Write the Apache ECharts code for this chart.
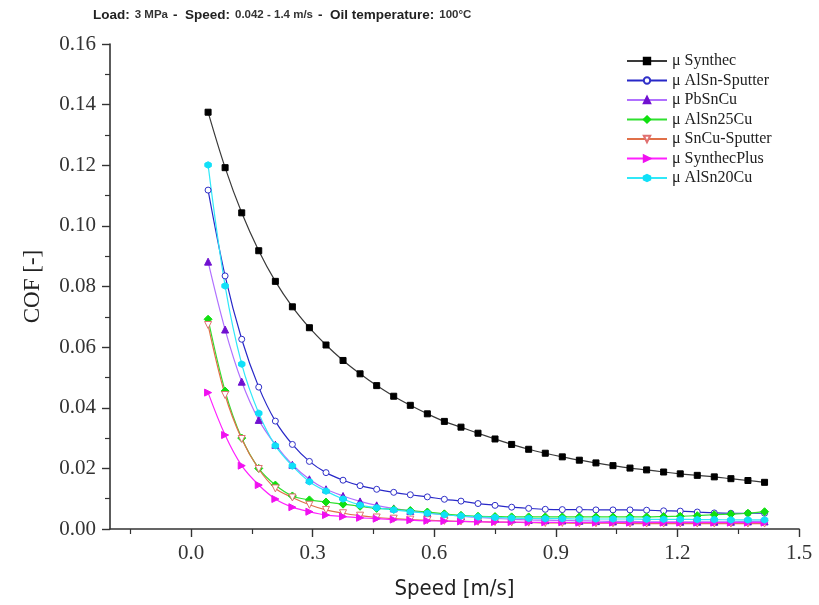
<!DOCTYPE html>
<html>
<head>
<meta charset="utf-8">
<script src="https://cdn.jsdelivr.net/npm/echarts@6/dist/echarts.min.js"></script>
<style>html,body{margin:0;padding:0;background:#fff}#c{width:819px;height:605px}</style>
</head>
<body>
<div id="c"></div>
<script>
var speed = [0.042,0.084,0.125,0.167,0.208,0.250,0.292,0.333,0.375,0.417,0.458,0.500,0.541,0.583,0.625,0.666,0.708,0.750,0.791,0.833,0.874,0.916,0.958,0.999,1.041,1.083,1.124,1.166,1.207,1.249,1.291,1.332,1.374,1.415];
var synthec = [0.1375,0.1192,0.1043,0.0918,0.0817,0.0733,0.0664,0.0607,0.0556,0.0512,0.0473,0.0438,0.0408,0.0380,0.0355,0.0336,0.0316,0.0297,0.0279,0.0263,0.0250,0.0238,0.0227,0.0218,0.0209,0.0201,0.0195,0.0188,0.0182,0.0177,0.0172,0.0166,0.0160,0.0154];
var alsnSputter = [0.1118,0.0835,0.0626,0.0468,0.0356,0.0279,0.0223,0.0186,0.0161,0.0143,0.0131,0.0121,0.0113,0.0106,0.0098,0.0092,0.0084,0.0078,0.0072,0.0068,0.0065,0.0064,0.0064,0.0063,0.0063,0.0063,0.0062,0.0060,0.0059,0.0056,0.0053,0.0052,0.0052,0.0052];
var pbsncu = [0.0882,0.0658,0.0486,0.0360,0.0278,0.0212,0.0164,0.0131,0.0109,0.0091,0.0078,0.0068,0.0060,0.0053,0.0047,0.0042,0.0038,0.0035,0.0032,0.0030,0.0029,0.0028,0.0027,0.0026,0.0025,0.0025,0.0024,0.0024,0.0024,0.0024,0.0024,0.0024,0.0025,0.0025];
var alsn25cu = [0.0692,0.0455,0.0300,0.0200,0.0145,0.0109,0.0096,0.0089,0.0082,0.0075,0.0068,0.0065,0.0061,0.0056,0.0050,0.0045,0.0042,0.0041,0.0040,0.0040,0.0040,0.0040,0.0040,0.0040,0.0040,0.0040,0.0040,0.0041,0.0042,0.0044,0.0047,0.0049,0.0052,0.0057];
var sncuSputter = [0.0673,0.0442,0.0297,0.0198,0.0134,0.0104,0.0080,0.0063,0.0052,0.0044,0.0038,0.0034,0.0031,0.0029,0.0027,0.0025,0.0024,0.0023,0.0022,0.0021,0.0020,0.0020,0.0019,0.0019,0.0019,0.0018,0.0018,0.0018,0.0018,0.0018,0.0018,0.0018,0.0018,0.0018];
var synthecPlus = [0.0450,0.0310,0.0209,0.0145,0.0099,0.0072,0.0057,0.0046,0.0041,0.0037,0.0034,0.0031,0.0029,0.0027,0.0026,0.0025,0.0024,0.0023,0.0023,0.0022,0.0022,0.0022,0.0021,0.0021,0.0021,0.0021,0.0021,0.0021,0.0021,0.0021,0.0021,0.0021,0.0021,0.0021];
var alsn20cu = [0.1201,0.0802,0.0544,0.0382,0.0275,0.0208,0.0156,0.0125,0.0099,0.0079,0.0070,0.0063,0.0057,0.0052,0.0047,0.0043,0.0040,0.0038,0.0036,0.0035,0.0034,0.0034,0.0033,0.0033,0.0033,0.0033,0.0032,0.0032,0.0032,0.0031,0.0031,0.0030,0.0030,0.0030];
var xMajorTicks = [0.0,0.3,0.6,0.9,1.2,1.5];
var xMinorTicks = [-0.15,0.15,0.45,0.75,1.05,1.35];

function pairs(v){ return speed.map(function(s,i){ return [s, v[i]]; }); }

var serif = 'Liberation Serif';
function mk(name, vals, lineColor, symbol, rot, fill, border, size){
  return {
    name: name, type: 'line', smooth: 0.35, data: pairs(vals),
    symbol: symbol, symbolRotate: rot, symbolSize: size,
    lineStyle: { color: lineColor, width: 1.2 },
    itemStyle: { color: fill, borderColor: border, borderWidth: 1 },
    emphasis: { disabled: true }
  };
}
var hex = 'path://M0,-10 L8.66,-5 L8.66,5 L0,10 L-8.66,5 L-8.66,-5 Z';
var series = [
  mk('μ Synthec', synthec, '#3a3a3a', 'rect', 0, '#000', '#000', 6),
  mk('μ AlSn-Sputter', alsnSputter, '#2828c8', 'circle', 0, '#fff', '#3030c8', 6),
  mk('μ PbSnCu', pbsncu, '#b070ff', 'triangle', 0, '#7010d0', '#7010d0', 7),
  mk('μ AlSn25Cu', alsn25cu, '#30e030', 'diamond', 0, '#10e010', '#10e010', 8),
  mk('μ SnCu-Sputter', sncuSputter, '#e07048', 'triangle', 180, '#fff', '#e07070', 7),
  mk('μ SynthecPlus', synthecPlus, '#ff20ff', 'triangle', -90, '#f010f0', '#f010f0', 7),
  mk('μ AlSn20Cu', alsn20cu, '#30e8f8', hex, 0, '#10e0f8', '#10e0f8', 6.5)
];

var chart = echarts.init(document.getElementById('c'), null, {renderer:'canvas'});
chart.setOption({
  animation: false,
  backgroundColor: '#fff',
  title: {
    left: 88, top: 1,
    text: '{b|Load:} {r|3 MPa} {b|-  Speed:} {r|0.042 - 1.4 m/s} {b|-  Oil temperature:} {r|100°C}',
    textStyle: {
      rich: {
        b: { fontFamily: 'Liberation Sans', fontWeight: 'bold', fontSize: 13.5, color: '#222' },
        r: { fontFamily: 'Liberation Sans', fontSize: 11.5, color: '#333' }
      }
    }
  },
  legend: {
    orient: 'vertical', left: 621, top: 48,
    itemWidth: 40, itemHeight: 8, itemGap: 3.5,
    textStyle: { fontFamily: serif, fontSize: 16, color: '#222', lineHeight: 16 },
    data: series.map(function(s){ return s.name; })
  },
  grid: { left: 110, right: 20, top: 44, bottom: 76, containLabel: false },
  xAxis: [{
    type: 'value', min: -0.2, max: 1.5,
    name: 'Speed [m/s]', nameLocation: 'middle', nameGap: 49,
    nameTextStyle: { fontFamily: 'DejaVu Sans Condensed', fontSize: 22, color: '#222' },
    axisLine: { onZero: false, lineStyle: { color: '#333', width: 1.6 } },
    axisTick: { show: true, customValues: xMajorTicks, length: 8, lineStyle: { color: '#333', width: 1.4 } },
    axisLabel: { customValues: xMajorTicks, margin: 14, fontFamily: serif, fontSize: 21, color: '#333',
      formatter: function(v){ return v.toFixed(1); } },
    splitLine: { show: false }
  }, {
    type: 'value', min: -0.2, max: 1.5, position: 'bottom',
    axisLine: { show: false, onZero: false },
    axisTick: { show: true, customValues: xMinorTicks, length: 5, lineStyle: { color: '#333', width: 1.2 } },
    axisLabel: { show: false },
    splitLine: { show: false }
  }],
  yAxis: {
    type: 'value', min: 0, max: 0.16, interval: 0.02,
    name: 'COF [-]', nameLocation: 'middle', nameGap: 66,
    nameTextStyle: { fontFamily: serif, fontSize: 23, color: '#222' },
    axisLine: { show: true, onZero: false, lineStyle: { color: '#333', width: 1.6 } },
    axisTick: { show: true, length: 8, lineStyle: { color: '#333', width: 1.4 } },
    minorTick: { show: true, splitNumber: 2, length: 5, lineStyle: { color: '#333', width: 1.2 } },
    axisLabel: { margin: 14, fontFamily: serif, fontSize: 21, color: '#333',
      formatter: function(v){ return v.toFixed(2); } },
    splitLine: { show: false }
  },
  series: series
});
</script>
</body>
</html>
